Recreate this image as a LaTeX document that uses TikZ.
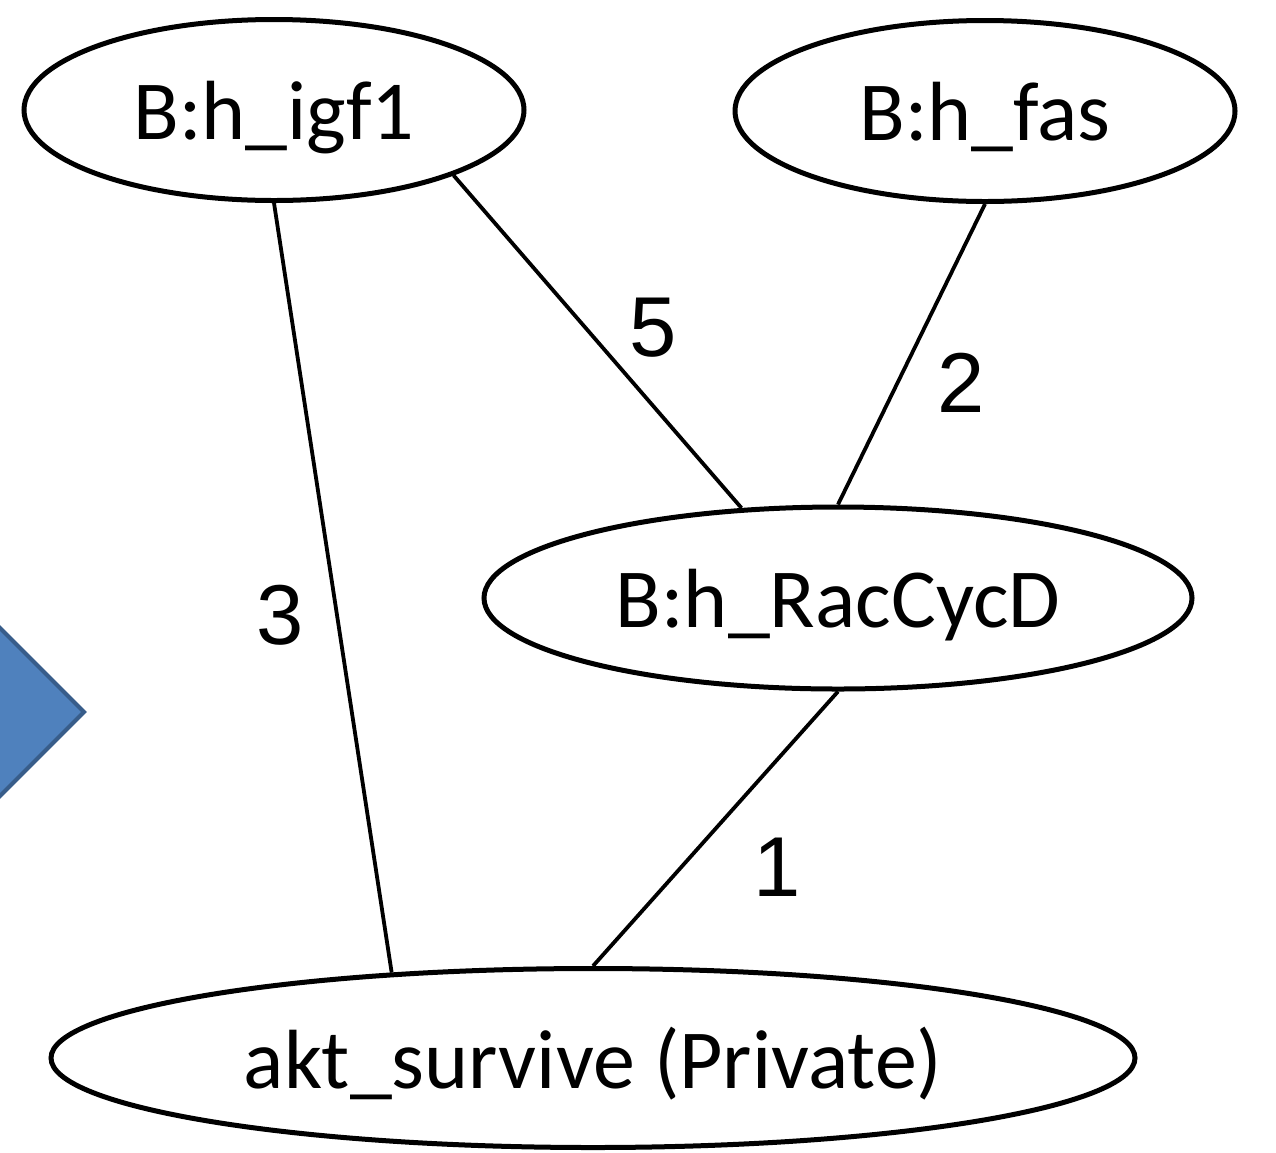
\documentclass[tikz,border=0pt]{standalone}
\usepackage{fontspec}
\newfontfamily\nodefont{Carlito}
\newfontfamily\numfont{Liberation Sans}
\usetikzlibrary{shapes.geometric}
\definecolor{arrowblue}{HTML}{4F81BD}
\definecolor{arrowrim}{HTML}{385D8A}

\begin{document}
\begin{tikzpicture}[x=1pt, y=-1pt,
	gene/.style={draw, ellipse, line width=5pt, inner sep=0pt, text depth=0pt, font=\nodefont\fontsize{84}{100}\selectfont},
	link/.style={line width=3.8pt},
	weight/.style={inner sep=0pt, font=\numfont\fontsize{85}{100}\selectfont}]
	\useasboundingbox (0,0) rectangle (1276,1152);
	% arrow head cut by the left margin
	\begin{scope}
	\clip (0,0) rectangle (1276,1152);
	\draw[fill=arrowblue, draw=arrowrim, line width=4pt] (-40,588) -- (84,712) -- (-40,836) -- cycle;
	\end{scope}
	\node[gene, minimum width=500pt, minimum height=181pt] (igf1) at (274,110) {B:h\_igf1};
	\node[gene, minimum width=500pt, minimum height=181pt] (fas) at (985,111) {B:h\_fas};
	\node[gene, minimum width=708pt, minimum height=182pt] (rac) at (838,598) {B:h\_RacCycD};
	\node[gene, minimum width=1084pt, minimum height=179pt] (akt) at (593,1058) {akt\_survive (Private)};
	\draw[link] (igf1.south) -- (akt.157);
	\draw[link] (igf1.-20.9) -- (rac.137.9);
	\draw[link] (fas.south) -- (rac.north);
	\draw[link] (rac.south) -- (akt.north);
	% edge weights
	\node[weight] (w5) at (653,328) {5};
	\node[weight] (w2) at (961,383) {2};
	\node[weight] (w3) at (280,615) {3};
	\node[weight] (w1) at (777,867) {1};
\end{tikzpicture}
\end{document}
